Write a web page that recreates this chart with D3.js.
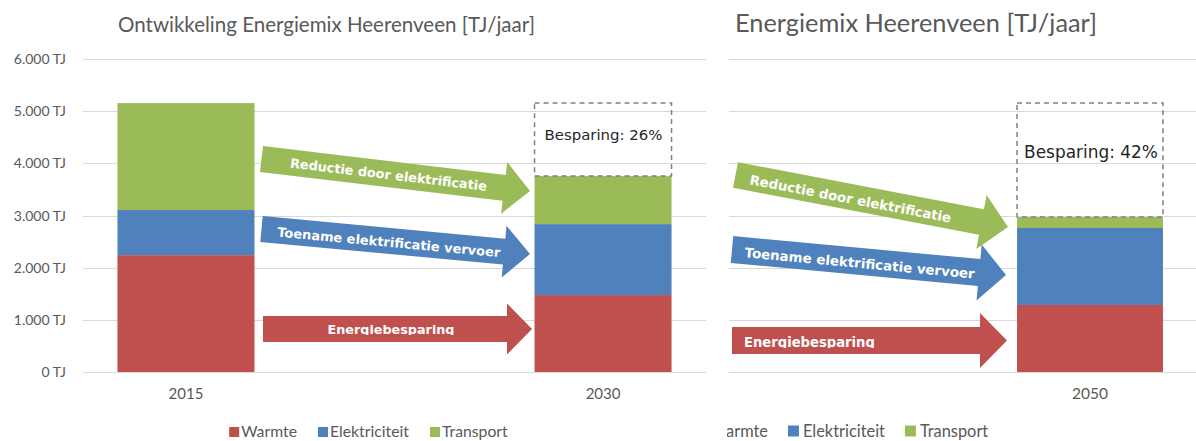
<!DOCTYPE html>
<html>
<head>
<meta charset="utf-8">
<script src="https://cdn.jsdelivr.net/npm/d3@7"></script>
<style>
  html, body { margin: 0; padding: 0; background: #ffffff; }
  svg { display: block; }
</style>
</head>
<body>
<script>
// ---------- DATA ----------
const years = ["2015", "2030", "2050"];
const seriesNames = ["Warmte", "Elektriciteit", "Transport"];
const warmte = [2240, 1475, 1285];
const elektriciteit = [865, 1360, 1475];
const transport = [2050, 920, 210];
const yTicks = [0, 1000, 2000, 3000, 4000, 5000, 6000];
const savingsLabels = ["Besparing: 26%", "Besparing: 42%"];
const arrowLabels = ["Reductie door elektrificatie", "Toename elektrificatie vervoer", "Energiebesparing"];
const titles = ["Ontwikkeling Energiemix Heerenveen [TJ/jaar]", "Energiemix Heerenveen [TJ/jaar]"];

// ---------- SETUP ----------
const W = 1196, H = 441;
const colors = { Warmte: "#C0504D", Elektriciteit: "#4F81BD", Transport: "#9BBB59" };
const textGray = "#595959";
const fontMain = "Lato, 'Open Sans', sans-serif";
const fontVerdana = "'DejaVu Sans', Verdana, sans-serif";

const rows = years.map((yr, i) => ({ year: yr, Warmte: warmte[i], Elektriciteit: elektriciteit[i], Transport: transport[i] }));
const stacked = d3.stack().keys(seriesNames)(rows);
const totals = rows.map(r => r.Warmte + r.Elektriciteit + r.Transport);

const svg = d3.select("body").append("svg").attr("width", W).attr("height", H);
const defs = svg.append("defs");

const y = d3.scaleLinear().domain([0, 6000]).range([372, 59]);
const nl = d3.formatLocale({ decimal: ",", thousands: ".", grouping: [3], currency: ["€", ""] });
const fmt = nl.format(",");

function fitFont(sel, target) {
  const node = sel.node();
  const base = parseFloat(sel.attr("font-size"));
  const w = node.getComputedTextLength();
  if (w > 0) sel.attr("font-size", (base * target / w).toFixed(2));
  return sel;
}

// ---------- PANELS ----------
const xLeft = d3.scaleBand().domain(["2015", "_gap", "2030"]).range([82, 707])
  .paddingInner(0.343).paddingOuter(0.17);
const xRight = d3.scaleBand().domain(["2050"]).range([985, 1195])
  .paddingInner(0.18).paddingOuter(0.18);

defs.append("clipPath").attr("id", "rightClip").append("rect")
  .attr("x", 727).attr("y", 0).attr("width", W - 727).attr("height", H);

const left = svg.append("g");
const right = svg.append("g").attr("clip-path", "url(#rightClip)");

function drawGrid(g, x0, x1) {
  g.append("g").selectAll("line").data(yTicks).join("line")
    .attr("x1", x0).attr("x2", x1)
    .attr("y1", d => Math.round(y(d)) + 0.5).attr("y2", d => Math.round(y(d)) + 0.5)
    .attr("stroke", "#d9d9d9").attr("stroke-width", 1);
}
drawGrid(left, 83, 706);
drawGrid(right, 729, 1196);

// y labels (left panel only)
left.append("g").selectAll("text").data(yTicks).join("text")
  .attr("x", 66).attr("y", d => y(d)).attr("dy", "0.36em")
  .attr("text-anchor", "end").attr("font-family", fontMain).attr("font-size", 14)
  .attr("fill", textGray).text(d => fmt(d) + " TJ");

function drawBars(g, xs, yearsInPanel, fs) {
  stacked.forEach(layer => {
    g.append("g").attr("fill", colors[layer.key]).selectAll("rect")
      .data(layer.filter(d => yearsInPanel.includes(d.data.year)))
      .join("rect")
      .attr("x", d => xs(d.data.year))
      .attr("width", xs.bandwidth())
      .attr("y", d => y(d[1]))
      .attr("height", d => y(d[0]) - y(d[1]));
  });
  g.append("g").selectAll("text").data(yearsInPanel).join("text")
    .attr("x", d => xs(d) + xs.bandwidth() / 2).attr("y", 399)
    .attr("text-anchor", "middle").attr("font-family", fontMain)
    .attr("font-size", fs)
    .attr("fill", textGray).text(d => d);
}
drawBars(left, xLeft, ["2015", "2030"], 15);
drawBars(right, xRight, ["2050"], 15.5);

// savings boxes
function drawSaving(g, xs, yr, label, tx, ty, tw) {
  const i = years.indexOf(yr);
  const x0 = xs(yr), bw = xs.bandwidth();
  g.append("rect")
    .attr("x", x0).attr("y", y(totals[0]))
    .attr("width", bw).attr("height", y(totals[i]) - y(totals[0]))
    .attr("fill", "none").attr("stroke", "#808080").attr("stroke-width", 1.5)
    .attr("stroke-dasharray", "5,4");
  const t = g.append("text").attr("x", x0 + tx).attr("y", ty)
    .attr("font-family", fontVerdana).attr("font-size", 14).attr("fill", "#262626").text(label);
  fitFont(t, tw);
}
drawSaving(left, xLeft, "2030", savingsLabels[0], 10, 140, 118);
drawSaving(right, xRight, "2050", savingsLabels[1], 7, 158, 134);

// ---------- ARROWS (annotations) ----------
let clipId = 0;
function drawArrow(g, a) {
  const dx = a.x1 - a.x0, dy = a.y1 - a.y0;
  const L = Math.sqrt(dx * dx + dy * dy);
  const ang = Math.atan2(dy, dx) * 180 / Math.PI;
  const sh = a.sh, hw = a.hw, hl = a.hl;
  const ag = g.append("g").attr("transform", `translate(${a.x0},${a.y0}) rotate(${ang})`);
  const pts = [[0, -sh / 2], [L - hl, -sh / 2], [L - hl, -hw / 2], [L, 0], [L - hl, hw / 2], [L - hl, sh / 2], [0, sh / 2]];
  ag.append("path").attr("d", d3.line()(pts) + "Z").attr("fill", a.color);
  const id = "ac" + (clipId++);
  defs.append("clipPath").attr("id", id).append("rect")
    .attr("x", 0).attr("y", -sh / 2).attr("width", L).attr("height", sh / 2 + a.clipBelow);
  const t = ag.append("text")
    .attr("y", a.base)
    .attr("font-family", fontVerdana).attr("font-weight", "bold").attr("font-size", 12)
    .attr("fill", "#ffffff").attr("clip-path", `url(#${id})`).text(a.label);
  fitFont(t, a.tw);
  if (a.anchor === "middle") t.attr("x", a.tx).attr("text-anchor", "middle");
  else t.attr("x", a.tx);
}

const arrowsLeft = [
  { x0: 261.5, y0: 159, x1: 530, y1: 191, color: colors.Transport, label: arrowLabels[0], tw: 198, tx: 128, anchor: "middle", base: 5, sh: 26, hw: 52, hl: 26, clipBelow: 20 },
  { x0: 261.5, y0: 229, x1: 530, y1: 254, color: colors.Elektriciteit, label: arrowLabels[1], tw: 224, tx: 128, anchor: "middle", base: 6, sh: 26, hw: 52, hl: 26, clipBelow: 20 },
  { x0: 263, y0: 329, x1: 532, y1: 329, color: colors.Warmte, label: arrowLabels[2], tw: 127, tx: 128, anchor: "middle", base: 5, sh: 26, hw: 51, hl: 25, clipBelow: 6 }
];
const arrowsRight = [
  { x0: 735.5, y0: 175, x1: 1008, y1: 227, color: colors.Transport, label: arrowLabels[0], tw: 205, tx: 15, anchor: "start", base: 6.5, sh: 26, hw: 55, hl: 27, clipBelow: 20 },
  { x0: 732, y0: 249.5, x1: 1006, y1: 275, color: colors.Elektriciteit, label: arrowLabels[1], tw: 231, tx: 13, anchor: "start", base: 6.5, sh: 27, hw: 56, hl: 27, clipBelow: 20 },
  { x0: 732, y0: 340.5, x1: 1007, y1: 340.5, color: colors.Warmte, label: arrowLabels[2], tw: 131, tx: 12, anchor: "start", base: 6.5, sh: 27, hw: 55, hl: 27, clipBelow: 7.5 }
];
arrowsLeft.forEach(a => drawArrow(left, a));
arrowsRight.forEach(a => drawArrow(right, a));

// ---------- TITLES ----------
fitFont(left.append("text").attr("x", 118).attr("y", 32).attr("font-family", fontMain)
  .attr("font-size", 24).attr("fill", textGray).text(titles[0]), 417);
fitFont(right.append("text").attr("x", 735).attr("y", 32).attr("font-family", fontMain)
  .attr("font-size", 24).attr("fill", textGray).text(titles[1]), 362);

// ---------- LEGENDS ----------
// anchorX: x of the second item's swatch; refWidth sizes the font from the "Elektriciteit" label
function drawLegend(g, anchorX, sq, gapSq, gapItem, refWidth, base) {
  const probe = g.append("text").attr("font-family", fontMain).attr("font-size", 14).text(seriesNames[1]);
  fitFont(probe, refWidth);
  const fs = probe.attr("font-size");
  const widths = seriesNames.map(n => { probe.text(n); return probe.node().getComputedTextLength(); });
  probe.remove();
  const itemW = widths.map(w => sq + gapSq + w + gapItem);
  let x = anchorX - itemW[0];
  seriesNames.forEach((name, i) => {
    g.append("rect").attr("x", x).attr("y", base - sq).attr("width", sq).attr("height", sq)
      .attr("fill", colors[name]);
    g.append("text").attr("x", x + sq + gapSq).attr("y", base)
      .attr("font-family", fontMain).attr("font-size", fs).attr("fill", textGray).text(name);
    x += itemW[i];
  });
}
drawLegend(left, 318, 10, 2, 21, 79, 437);
drawLegend(right, 788, 11, 4, 20, 82, 436.5);
</script>
</body>
</html>
